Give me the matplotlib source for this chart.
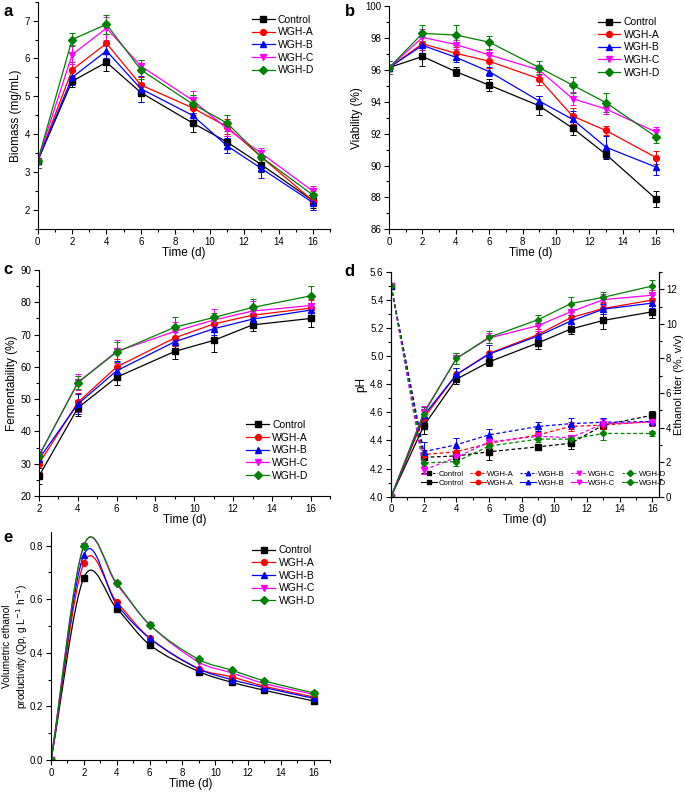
import numpy as np
import matplotlib
matplotlib.use("Agg")
import matplotlib.pyplot as plt
from matplotlib.path import Path
from matplotlib.patches import PathPatch
from matplotlib.lines import Line2D
from matplotlib.ticker import MultipleLocator, FormatStrFormatter

plt.rcParams['font.family'] = ['Liberation Sans', 'DejaVu Sans']

# --- Data -------------------------------------------------------------------
groups = ["Control", "WGH-A", "WGH-B", "WGH-C", "WGH-D"]
colors = ["#000000", "#ff0000", "#0000ff", "#ff00ff", "#008000"]
markers = ["s", "o", "^", "v", "D"]

days = [0, 2, 4, 6, 9, 11, 13, 16]
days_c = [2, 4, 6, 9, 11, 13, 16]

# a: biomass (mg/mL)
biomass = [
    [3.3, 5.4, 5.9, 5.1, 4.3, 3.8, 3.2, 2.25],
    [3.3, 5.7, 6.4, 5.3, 4.7, 4.2, 3.4, 2.25],
    [3.3, 5.5, 6.2, 5.2, 4.5, 3.7, 3.1, 2.2],
    [3.3, 6.1, 6.8, 5.8, 4.9, 4.15, 3.5, 2.5],
    [3.3, 6.5, 6.9, 5.7, 4.8, 4.3, 3.4, 2.4],
]
biomass_err = [
    [0.2, 0.15, 0.22, 0.25, 0.25, 0.15, 0.2, 0.2],
    [0.2, 0.2, 0.25, 0.2, 0.2, 0.2, 0.2, 0.25],
    [0.2, 0.2, 0.2, 0.35, 0.2, 0.2, 0.25, 0.2],
    [0.2, 0.25, 0.3, 0.15, 0.25, 0.2, 0.15, 0.15],
    [0.2, 0.18, 0.25, 0.25, 0.25, 0.2, 0.2, 0.15],
]

# b: viability (%)
viability = [
    [96.15, 96.85, 95.9, 95.05, 93.75, 92.35, 90.7, 87.9],
    [96.15, 97.65, 97.05, 96.55, 95.45, 93.1, 92.2, 90.5],
    [96.15, 97.55, 96.8, 95.9, 94.05, 92.9, 91.15, 89.9],
    [96.15, 98.05, 97.6, 96.95, 96.0, 94.2, 93.55, 92.1],
    [96.15, 98.3, 98.2, 97.75, 96.15, 95.05, 93.95, 91.8],
]
viability_err = [
    [0.4, 0.6, 0.3, 0.4, 0.6, 0.45, 0.3, 0.5],
    [0.4, 0.4, 0.4, 0.4, 0.4, 0.5, 0.3, 0.4],
    [0.4, 0.5, 0.3, 0.3, 0.3, 0.5, 0.7, 0.5],
    [0.4, 0.5, 0.3, 0.3, 0.3, 0.4, 0.3, 0.3],
    [0.4, 0.5, 0.6, 0.4, 0.4, 0.5, 0.6, 0.4],
]

# c: fermentability (%)
ferment = [
    [26.2, 47.3, 56.8, 64.8, 68.2, 73.0, 75.0],
    [30.0, 49.0, 60.0, 69.0, 73.3, 76.0, 78.2],
    [31.5, 48.5, 58.8, 67.8, 71.8, 74.8, 77.6],
    [32.5, 55.2, 64.8, 71.0, 74.5, 77.3, 79.0],
    [32.5, 55.1, 64.6, 72.3, 75.3, 78.4, 82.0],
]
ferment_err = [
    [2.5, 2.5, 2.5, 2.5, 3.5, 2.0, 2.5],
    [2.5, 3.0, 2.5, 2.5, 2.5, 2.5, 2.5],
    [2.0, 3.0, 3.0, 3.0, 2.0, 2.0, 2.0],
    [2.0, 2.5, 3.5, 3.0, 3.5, 3.0, 2.0],
    [1.5, 2.0, 3.0, 3.0, 1.5, 2.5, 3.2],
]

# d: pH (left) and ethanol titer (right, %, v/v)
ph = [
    [5.5, 4.28, 4.29, 4.32, 4.355, 4.38, 4.51, 4.58],
    [5.5, 4.30, 4.32, 4.38, 4.44, 4.50, 4.51, 4.535],
    [5.5, 4.32, 4.37, 4.44, 4.50, 4.52, 4.53, 4.535],
    [5.5, 4.19, 4.28, 4.39, 4.43, 4.42, 4.52, 4.53],
    [5.5, 4.24, 4.25, 4.36, 4.41, 4.41, 4.45, 4.45],
]
ph_err = [
    [0.01, 0.03, 0.03, 0.06, 0.02, 0.04, 0.03, 0.03],
    [0.01, 0.03, 0.03, 0.03, 0.02, 0.03, 0.03, 0.03],
    [0.01, 0.07, 0.05, 0.04, 0.03, 0.04, 0.03, 0.02],
    [0.01, 0.03, 0.03, 0.03, 0.02, 0.02, 0.03, 0.02],
    [0.01, 0.03, 0.03, 0.03, 0.02, 0.02, 0.05, 0.02],
]
ethanol = [
    [0.0, 4.1, 6.8, 7.8, 8.9, 9.7, 10.2, 10.7],
    [0.0, 4.55, 7.07, 8.29, 9.38, 10.36, 10.89, 11.38],
    [0.0, 4.7, 7.07, 8.25, 9.3, 10.16, 10.85, 11.2],
    [0.0, 4.87, 8.0, 9.18, 9.9, 10.7, 11.4, 11.66],
    [0.0, 4.8, 8.0, 9.22, 10.24, 11.17, 11.54, 12.19],
]
ethanol_err = [
    [0.0, 0.5, 0.3, 0.25, 0.35, 0.3, 0.5, 0.35],
    [0.0, 0.4, 0.4, 0.5, 0.3, 0.35, 0.3, 0.3],
    [0.0, 0.4, 0.4, 0.5, 0.3, 0.35, 0.3, 0.3],
    [0.0, 0.4, 0.3, 0.3, 0.3, 0.4, 0.3, 0.3],
    [0.0, 0.4, 0.3, 0.35, 0.25, 0.4, 0.3, 0.35],
]

# e: volumetric ethanol productivity
qp = [
    [0.0, 0.68, 0.565, 0.43, 0.33, 0.29, 0.26, 0.22],
    [0.0, 0.735, 0.59, 0.455, 0.34, 0.31, 0.275, 0.235],
    [0.0, 0.765, 0.58, 0.455, 0.34, 0.30, 0.27, 0.23],
    [0.0, 0.80, 0.655, 0.505, 0.365, 0.325, 0.285, 0.245],
    [0.0, 0.80, 0.66, 0.505, 0.375, 0.335, 0.295, 0.25],
]

TICK = 7
LABEL = 8.5
LEG = 7.5


# --- Helpers ----------------------------------------------------------------
def msize(m):
    return 3.6 if m == 'D' else 4.2


def style_axes(ax, right=False):
    ax.spines['top'].set_visible(False)
    if not right:
        ax.spines['right'].set_visible(False)
    ax.tick_params(which='both', direction='out', labelsize=TICK, width=0.8, pad=2)
    ax.tick_params(which='major', length=3.5)
    ax.tick_params(which='minor', length=2)
    ax.set_xlabel("Time (d)", fontsize=LABEL, labelpad=0)


def plot_errs(ax, x, ys, errs, ls='-'):
    for y, e, c, m in zip(ys, errs, colors, markers):
        ax.errorbar(x, y, yerr=e, color=c, marker=m, markersize=msize(m),
                    lw=0.9, ls=ls, capsize=2, elinewidth=0.7, capthick=0.7)


def add_legend(ax, **kw):
    handles = [Line2D([], [], color=c, marker=m, markersize=msize(m), lw=0.9)
               for c, m in zip(colors, markers)]
    ax.legend(handles, groups, frameon=False, fontsize=LEG, handlelength=2.2,
              handletextpad=0.3, labelspacing=0.25, borderaxespad=0, **kw)


def smooth_path(x, y):
    # Hermite (Catmull-Rom style) segments written as cubic Bezier path
    x = np.asarray(x, float)
    y = np.asarray(y, float)
    n = len(x)
    m = np.zeros(n)
    m[0] = (y[1] - y[0]) / (x[1] - x[0])
    m[-1] = (y[-1] - y[-2]) / (x[-1] - x[-2])
    for i in range(1, n - 1):
        m[i] = (y[i + 1] - y[i - 1]) / (x[i + 1] - x[i - 1])
    verts = [(x[0], y[0])]
    codes = [Path.MOVETO]
    for i in range(n - 1):
        h = x[i + 1] - x[i]
        verts += [(x[i] + h / 3, y[i] + m[i] * h / 3),
                  (x[i + 1] - h / 3, y[i + 1] - m[i + 1] * h / 3),
                  (x[i + 1], y[i + 1])]
        codes += [Path.CURVE4] * 3
    return Path(verts, codes)


fig = plt.figure(figsize=(6.85, 7.93), dpi=100)

# --- a ----------------------------------------------------------------------
ax = fig.add_axes([0.055, 0.711, 0.427, 0.287])
plot_errs(ax, days, biomass, biomass_err)
ax.set_xlim(0, 17)
ax.set_ylim(1.5, 7.5)
ax.xaxis.set_major_locator(MultipleLocator(2))
ax.xaxis.set_minor_locator(MultipleLocator(1))
ax.yaxis.set_major_locator(MultipleLocator(1))
ax.yaxis.set_minor_locator(MultipleLocator(0.5))
ax.set_ylabel("Biomass (mg/mL)", fontsize=LABEL, labelpad=2)
style_axes(ax)
add_legend(ax, loc='upper right', bbox_to_anchor=(0.96, 0.96))

# --- b ----------------------------------------------------------------------
ax = fig.add_axes([0.568, 0.711, 0.414, 0.281])
plot_errs(ax, days, viability, viability_err)
ax.set_xlim(0, 17)
ax.set_ylim(86, 100)
ax.xaxis.set_major_locator(MultipleLocator(2))
ax.xaxis.set_minor_locator(MultipleLocator(1))
ax.yaxis.set_major_locator(MultipleLocator(2))
ax.yaxis.set_minor_locator(MultipleLocator(1))
ax.set_ylabel("Viability (%)", fontsize=LABEL, labelpad=2)
style_axes(ax)
add_legend(ax, loc='upper right', bbox_to_anchor=(0.97, 0.97))

# --- c ----------------------------------------------------------------------
ax = fig.add_axes([0.057, 0.3745, 0.425, 0.285])
plot_errs(ax, days_c, ferment, ferment_err)
ax.set_xlim(2, 17)
ax.set_ylim(20, 90)
ax.xaxis.set_major_locator(MultipleLocator(2))
ax.xaxis.set_minor_locator(MultipleLocator(1))
ax.yaxis.set_major_locator(MultipleLocator(10))
ax.yaxis.set_minor_locator(MultipleLocator(5))
ax.set_ylabel("Fermentability (%)", fontsize=LABEL, labelpad=2)
style_axes(ax)
add_legend(ax, loc='lower right', bbox_to_anchor=(0.94, 0.05))

# --- d ----------------------------------------------------------------------
ax = fig.add_axes([0.571, 0.3737, 0.391, 0.2833])
ax2 = ax.twinx()
for y, e, c, m in zip(ph, ph_err, colors, markers):
    ax.errorbar(days, y, yerr=e, color=c, marker=m, markersize=msize(m) - 0.4,
                lw=0.9, ls='--', dashes=(3, 2), capsize=2, elinewidth=0.7, capthick=0.7)
for y, e, c, m in zip(ethanol, ethanol_err, colors, markers):
    ax2.errorbar(days, y, yerr=e, color=c, marker=m, markersize=msize(m) - 0.4,
                 lw=0.9, ls='-', capsize=2, elinewidth=0.7, capthick=0.7)
ax.set_xlim(0, 16.4)
ax.set_ylim(4.0, 5.6)
ax2.set_ylim(0, 13)
ax.xaxis.set_major_locator(MultipleLocator(2))
ax.xaxis.set_minor_locator(MultipleLocator(1))
ax.yaxis.set_major_locator(MultipleLocator(0.2))
ax.yaxis.set_minor_locator(MultipleLocator(0.1))
ax2.yaxis.set_major_locator(MultipleLocator(2))
ax2.yaxis.set_minor_locator(MultipleLocator(1))
ax.yaxis.set_major_formatter(FormatStrFormatter('%.1f'))
ax.set_ylabel("pH", fontsize=LABEL, labelpad=2)
style_axes(ax, right=True)
ax2.spines['top'].set_visible(False)
ax2.tick_params(which='both', direction='out', labelsize=TICK, width=0.8, pad=1.5)
ax2.tick_params(which='major', length=3.5)
ax2.tick_params(which='minor', length=2)
ax2.set_ylabel("Ethanol titer (%, v/v)", fontsize=8, va='center')
ax2.yaxis.set_label_coords(1.075, 0.5)
handles, labels = [], []
for g, c, m in zip(groups, colors, markers):
    handles.append(Line2D([], [], color=c, marker=m, ls='--', dashes=(2, 1.5), lw=0.8,
                          markersize=3.2))
    labels.append(g)
    handles.append(Line2D([], [], color=c, marker=m, ls='-', lw=0.8, markersize=3.2))
    labels.append(g)
ax.legend(handles, labels, ncol=5, loc='lower center', bbox_to_anchor=(0.57, 0.03),
          frameon=False, fontsize=5.6, handlelength=2.0, handletextpad=0.25,
          columnspacing=0.8, labelspacing=0.15, borderaxespad=0)

# --- e ----------------------------------------------------------------------
ax = fig.add_axes([0.0745, 0.0416, 0.4075, 0.2874])
for y, c, m in zip(qp, colors, markers):
    ax.add_patch(PathPatch(smooth_path(days, y), fill=False, edgecolor=c, lw=0.9))
    ax.plot(days, y, ls='none', color=c, marker=m, markersize=msize(m))
ax.set_xlim(0, 17)
ax.set_ylim(0, 0.85)
ax.xaxis.set_major_locator(MultipleLocator(2))
ax.xaxis.set_minor_locator(MultipleLocator(1))
ax.yaxis.set_major_locator(MultipleLocator(0.2))
ax.yaxis.set_minor_locator(MultipleLocator(0.1))
ax.yaxis.set_major_formatter(FormatStrFormatter('%.1f'))
ax.set_ylabel("Volumetric ethanol\nproductivity (Qp, g L$^{-1}$ h$^{-1}$)", fontsize=7.3,
              linespacing=1.15, va='center', ha='center', multialignment='center')
ax.yaxis.set_label_coords(-0.125, 0.5)
style_axes(ax)
add_legend(ax, loc='upper right', bbox_to_anchor=(0.96, 0.96))

# --- panel letters ------------------------------------------------------------
for t, x, y in [("a", 0.005, 0.985), ("b", 0.503, 0.985), ("c", 0.005, 0.66),
                ("d", 0.503, 0.657), ("e", 0.005, 0.322)]:
    fig.text(x, y, t, fontsize=12, fontweight='bold', va='center', ha='left')

fig.savefig("out.png", dpi=100)
